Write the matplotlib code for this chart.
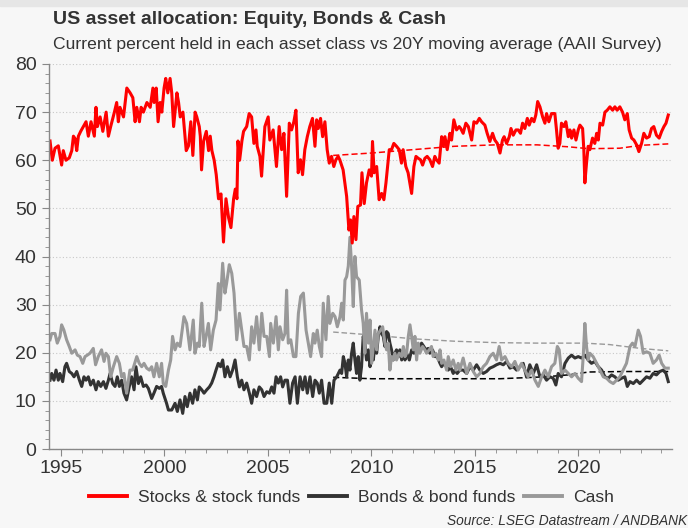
import matplotlib
matplotlib.use("Agg")
import matplotlib.pyplot as plt
from matplotlib.ticker import MultipleLocator
from matplotlib.lines import Line2D

# --- data (year, % held) ---
stocks_x = [1994.47, 1994.58, 1994.71, 1994.87, 1995.03, 1995.11, 1995.24, 1995.40, 1995.52, 1995.60,
            1995.68, 1995.76, 1995.84, 1995.95, 1996.08, 1996.21, 1996.32, 1996.45, 1996.61, 1996.69,
            1996.76, 1996.89, 1997.02, 1997.18, 1997.29, 1997.40, 1997.58, 1997.69, 1997.77, 1997.85,
            1998.02, 1998.18, 1998.34, 1998.47, 1998.58, 1998.66, 1998.79, 1998.87, 1998.98, 1999.15,
            1999.31, 1999.44, 1999.50, 1999.60, 1999.69, 1999.79, 1999.87, 1999.98, 2000.06, 2000.16,
            2000.27, 2000.35, 2000.44, 2000.60, 2000.68, 2000.76, 2000.89, 2001.05, 2001.16, 2001.27,
            2001.37, 2001.48, 2001.56, 2001.68, 2001.73, 2001.79, 2001.89, 2002.02, 2002.13, 2002.21,
            2002.29, 2002.40, 2002.50, 2002.61, 2002.73, 2002.85, 2002.97, 2003.10, 2003.21, 2003.34,
            2003.42, 2003.50, 2003.55, 2003.63, 2003.74, 2003.82, 2003.97, 2004.09, 2004.21, 2004.32,
            2004.42, 2004.48, 2004.61, 2004.69, 2004.85, 2005.01, 2005.09, 2005.25, 2005.41, 2005.54,
            2005.66, 2005.77, 2005.90, 2006.03, 2006.14, 2006.25, 2006.35, 2006.46, 2006.57, 2006.67,
            2006.78, 2006.90, 2007.02, 2007.15, 2007.27, 2007.35, 2007.43, 2007.54, 2007.64, 2007.75,
            2007.86, 2007.96, 2008.07, 2008.18, 2008.28, 2008.39, 2008.47, 2008.63, 2008.80, 2008.91,
            2008.99, 2009.07, 2009.15, 2009.25, 2009.34, 2009.47, 2009.54, 2009.65, 2009.76, 2009.89,
            2010.00, 2010.05, 2010.13, 2010.25, 2010.37, 2010.49, 2010.60, 2010.70, 2010.86, 2010.97,
            2011.08, 2011.21, 2011.34, 2011.45, 2011.53, 2011.66, 2011.77, 2011.94, 2012.05, 2012.15,
            2012.26, 2012.37, 2012.47, 2012.58, 2012.69, 2012.82, 2012.95, 2013.06, 2013.14, 2013.27,
            2013.39, 2013.47, 2013.55, 2013.66, 2013.79, 2013.87, 2013.98, 2014.11, 2014.24, 2014.31,
            2014.43, 2014.56, 2014.68, 2014.84, 2014.95, 2015.08, 2015.21, 2015.32, 2015.48, 2015.59,
            2015.72, 2015.85, 2015.96, 2016.08, 2016.21, 2016.33, 2016.41, 2016.53, 2016.66, 2016.74,
            2016.85, 2016.98, 2017.09, 2017.20, 2017.30, 2017.41, 2017.53, 2017.62, 2017.74, 2017.85,
            2017.94, 2018.03, 2018.14, 2018.27, 2018.38, 2018.46, 2018.57, 2018.70, 2018.86, 2018.94,
            2019.02, 2019.10, 2019.18, 2019.30, 2019.39, 2019.51, 2019.59, 2019.67, 2019.78, 2019.88,
            2019.99, 2020.07, 2020.20, 2020.26, 2020.31, 2020.39, 2020.47, 2020.55, 2020.68, 2020.79,
            2020.88, 2020.96, 2021.04, 2021.17, 2021.28, 2021.39, 2021.52, 2021.65, 2021.76, 2021.87,
            2022.00, 2022.13, 2022.24, 2022.36, 2022.45, 2022.57, 2022.68, 2022.81, 2022.92, 2023.05,
            2023.16, 2023.29, 2023.42, 2023.53, 2023.64, 2023.77, 2023.90, 2024.02, 2024.13, 2024.23,
            2024.34]
stocks_y = [64, 60, 62.5, 63, 59, 62, 60, 60.5, 62, 65,
            64.5, 62, 65, 66, 67, 68, 65, 68, 65, 71,
            67, 69, 66, 70, 65, 67, 70, 72, 68, 71,
            69, 75, 74, 73, 68, 71, 68, 71, 70, 72,
            71, 75, 72, 75, 68, 72, 70, 75, 77, 74,
            77, 74, 67, 74, 72, 69, 70, 62, 63, 68,
            61, 70, 69, 67, 65, 58, 64, 66, 62, 65,
            62, 60, 57, 52, 53, 43, 52, 48, 46, 52,
            54, 52, 64, 60, 64, 66, 67, 69.7, 69, 63.5,
            66.3, 62.9, 60.8, 56.7, 67, 69, 64.2, 66.3, 58.7, 67,
            62.2, 65.6, 52.5, 67.7, 66.3, 68, 70.4, 57.4, 60.1, 57,
            62.2, 64.9, 67, 68.7, 62.9, 68.4, 66.6, 68.7, 64.9, 68,
            62.2, 59.4, 60.8, 58.7, 60.1, 60.8, 60.1, 58, 52.5, 45.5,
            47.6, 42.8, 48.3, 43.5, 50.4, 50.7, 57.4, 51, 55.3, 58,
            56.7, 63.9, 57.4, 58.7, 51.8, 53.1, 51.8, 55.3, 62.2, 62.2,
            63.5, 62.9, 62.2, 59.4, 62.2, 58.7, 57.4, 53.1, 58.7, 60.8,
            60.4, 60.1, 59, 60.4, 60.8, 60.1, 58.7, 60.8, 60.1, 59.4,
            64.9, 62.9, 64.9, 62.2, 65.6, 64.2, 68.4, 66.3, 67, 66.6,
            65.6, 67.7, 67, 64.2, 68, 67.7, 68.7, 68, 67.3, 65.6,
            63.9, 65.6, 64.2, 63.5, 61.5, 64.2, 64.9, 63.5, 64.9, 66.6,
            65.2, 66.3, 66.3, 65.6, 67.7, 66.6, 68.7, 67.3, 68.7, 68,
            69.4, 72.2, 71.1, 69, 67.7, 69.7, 68, 69.7, 69.7, 66.3,
            62.5, 63.5, 67.7, 67, 68, 64.9, 66.3, 64.6, 66.3, 64.2,
            66.3, 67.3, 66.6, 62.2, 55.3, 59.4, 62.9, 62.2, 64.6, 63.5,
            65.6, 64.2, 67.7, 67.3, 70, 70.4, 71.1, 70.4, 71.1, 70.4,
            71.1, 70, 68.4, 69.7, 66.3, 64.6, 64.2, 63.2, 61.8, 63.5,
            65.6, 64.6, 64.9, 66.6, 67, 65.2, 64.6, 66, 67, 67.7,
            69.4]

bonds_x = [1994.47, 1994.55, 1994.66, 1994.76, 1994.87, 1994.95, 1995.08, 1995.19, 1995.27, 1995.40,
           1995.52, 1995.63, 1995.76, 1995.89, 1996.00, 1996.11, 1996.21, 1996.32, 1996.43, 1996.56,
           1996.69, 1996.80, 1996.92, 1997.05, 1997.17, 1997.29, 1997.37, 1997.50, 1997.61, 1997.72,
           1997.82, 1997.93, 1998.04, 1998.17, 1998.30, 1998.41, 1998.53, 1998.62, 1998.74, 1998.85,
           1998.98, 1999.11, 1999.22, 1999.38, 1999.49, 1999.62, 1999.75, 1999.86, 1999.94, 2000.10,
           2000.19, 2000.35, 2000.51, 2000.62, 2000.75, 2000.88, 2000.99, 2001.10, 2001.23, 2001.36,
           2001.47, 2001.59, 2001.68, 2001.80, 2001.91, 2002.04, 2002.17, 2002.28, 2002.39, 2002.49,
           2002.60, 2002.71, 2002.81, 2002.92, 2003.04, 2003.17, 2003.29, 2003.41, 2003.52, 2003.62,
           2003.73, 2003.84, 2003.97, 2004.10, 2004.21, 2004.32, 2004.45, 2004.58, 2004.70, 2004.81,
           2004.94, 2005.07, 2005.18, 2005.29, 2005.39, 2005.50, 2005.61, 2005.71, 2005.82, 2005.94,
           2006.06, 2006.19, 2006.31, 2006.42, 2006.55, 2006.68, 2006.79, 2006.90, 2007.03, 2007.16,
           2007.27, 2007.38, 2007.48, 2007.59, 2007.71, 2007.84, 2007.96, 2008.08, 2008.19, 2008.32,
           2008.48, 2008.56, 2008.64, 2008.72, 2008.80, 2008.88, 2008.96, 2009.04, 2009.12, 2009.20,
           2009.28, 2009.36, 2009.44, 2009.52, 2009.60, 2009.68, 2009.76, 2009.85, 2009.93, 2010.01,
           2010.09, 2010.17, 2010.25, 2010.33, 2010.41, 2010.49, 2010.57, 2010.65, 2010.73, 2010.81,
           2010.89, 2010.97, 2011.05, 2011.13, 2011.21, 2011.29, 2011.37, 2011.46, 2011.54, 2011.62,
           2011.70, 2011.83, 2011.94, 2012.05, 2012.18, 2012.31, 2012.42, 2012.53, 2012.63, 2012.74,
           2012.82, 2012.95, 2013.07, 2013.18, 2013.31, 2013.39, 2013.50, 2013.63, 2013.71, 2013.82,
           2013.95, 2014.03, 2014.14, 2014.27, 2014.43, 2014.60, 2014.76, 2014.92, 2015.08, 2015.24,
           2015.40, 2015.56, 2015.72, 2015.88, 2016.04, 2016.21, 2016.37, 2016.53, 2016.69, 2016.85,
           2017.01, 2017.17, 2017.33, 2017.49, 2017.65, 2017.82, 2017.98, 2018.14, 2018.30, 2018.46,
           2018.62, 2018.78, 2018.91, 2019.02, 2019.18, 2019.35, 2019.51, 2019.67, 2019.83, 2019.99,
           2020.15, 2020.31, 2020.47, 2020.63, 2020.79, 2020.96, 2021.12, 2021.28, 2021.44, 2021.60,
           2021.76, 2021.92, 2022.08, 2022.24, 2022.36, 2022.49, 2022.65, 2022.81, 2022.97, 2023.13,
           2023.29, 2023.45, 2023.61, 2023.77, 2023.93, 2024.10, 2024.23, 2024.34]
bonds_y = [14.3, 15.7, 14.3, 16.4, 14.3, 15.7, 14, 17.1, 17.8, 16.1,
           15.7, 15, 16.1, 14.3, 13, 15, 14.3, 15, 13.3, 14.3,
           12.3, 14, 13, 14, 12.6, 14.3, 15.7, 13.6, 13, 15,
           13, 14.3, 11.6, 10.2, 13, 15, 12.3, 17.1, 13.6, 15,
           13, 13.3, 12.6, 10.5, 11.6, 13, 12.6, 13, 11.6, 9.5,
           8.1, 8.1, 9.5, 7.8, 10.2, 7.4, 10.9, 8.8, 11.6, 9.5,
           12.3, 10.2, 12.9, 12.3, 11.6, 12.3, 12.9, 13.7, 15, 16.4,
           17.8, 17.1, 18.5, 15, 17.1, 15, 16.4, 18.5, 15, 12.9,
           14.3, 12.3, 13.7, 11.6, 9.5, 12.3, 10.9, 12.9, 12.3, 10.9,
           11.9, 11.6, 12.9, 11.6, 15, 13.7, 15, 12.9, 14.3, 14.3,
           9.5, 13.7, 15, 9.5, 15, 12.3, 15, 11.6, 15, 10.9,
           14.3, 13.7, 11.6, 14.3, 9.5, 9.5, 13.7, 9.5, 14.3, 15,
           16.4, 15.7, 19.2, 17.8, 15, 18.5, 16.4, 19.9, 22, 18.5,
           15.7, 19.2, 14.3, 17.1, 23.4, 22, 18.5, 20.6, 17.1, 19.9,
           18.5, 22, 19.9, 23.4, 25.4, 24, 23.4, 21.3, 24.4, 24,
           22, 20.6, 18.5, 19.9, 20.6, 19.2, 20.6, 18.5, 20.6, 18.5,
           19.9, 18.5, 20.6, 19.9, 21.3, 20.6, 22, 21.3, 20.6, 20.9,
           19.9, 20.6, 19.2, 19.2, 17.8, 17.1, 17.8, 17.1, 16.4, 17.1,
           15.7, 16.4, 15.7, 16.4, 16.4, 15.7, 17.1, 16.4, 17.5, 16.4,
           15.7, 16.1, 16.8, 17.1, 17.5, 17.8, 17.5, 18.2, 16.8, 17.1,
           16.4, 17.1, 17.8, 15, 17.5, 15.7, 17.5, 15, 15.4, 14.3,
           15, 14.7, 13.3, 15.7, 15, 17.8, 18.9, 19.5, 18.9, 19.2,
           18.9, 19.5, 18.5, 17.8, 18.2, 17.1, 16.4, 15, 14.7, 15.4,
           15, 14.3, 14.7, 15, 13, 14, 13.6, 14.3, 13.6, 14.3,
           15, 14.7, 15.7, 15.4, 16.1, 16.4, 15.7, 14]

cash_x = [1994.47, 1994.55, 1994.71, 1994.82, 1994.95, 1995.03, 1995.14, 1995.27, 1995.40, 1995.52,
          1995.68, 1995.79, 1995.92, 1996.05, 1996.16, 1996.27, 1996.40, 1996.56, 1996.67, 1996.80,
          1996.96, 1997.08, 1997.17, 1997.29, 1997.40, 1997.53, 1997.69, 1997.82, 1997.93, 1998.04,
          1998.17, 1998.33, 1998.46, 1998.66, 1998.78, 1998.90, 1999.01, 1999.14, 1999.27, 1999.38,
          1999.49, 1999.62, 1999.75, 1999.86, 1999.94, 2000.06, 2000.19, 2000.30, 2000.39, 2000.51,
          2000.62, 2000.75, 2000.94, 2001.07, 2001.23, 2001.39, 2001.47, 2001.59, 2001.68, 2001.80,
          2001.91, 2002.01, 2002.12, 2002.23, 2002.36, 2002.49, 2002.60, 2002.68, 2002.81, 2002.92,
          2003.00, 2003.13, 2003.25, 2003.36, 2003.49, 2003.62, 2003.73, 2003.84, 2003.97, 2004.10,
          2004.21, 2004.32, 2004.45, 2004.58, 2004.70, 2004.81, 2004.94, 2005.07, 2005.13, 2005.26,
          2005.39, 2005.50, 2005.58, 2005.71, 2005.82, 2005.90, 2005.98, 2006.10, 2006.23, 2006.35,
          2006.47, 2006.58, 2006.71, 2006.84, 2006.95, 2007.06, 2007.19, 2007.27, 2007.38, 2007.48,
          2007.59, 2007.67, 2007.80, 2007.91, 2007.99, 2008.13, 2008.24, 2008.35, 2008.48, 2008.56,
          2008.64, 2008.72, 2008.80, 2008.88, 2008.96, 2009.04, 2009.12, 2009.20, 2009.28, 2009.41,
          2009.52, 2009.60, 2009.68, 2009.76, 2009.85, 2009.93, 2010.01, 2010.09, 2010.17, 2010.25,
          2010.33, 2010.44, 2010.54, 2010.65, 2010.73, 2010.81, 2010.89, 2010.97, 2011.05, 2011.13,
          2011.21, 2011.34, 2011.46, 2011.54, 2011.62, 2011.70, 2011.78, 2011.86, 2011.94, 2012.02,
          2012.10, 2012.18, 2012.26, 2012.34, 2012.47, 2012.58, 2012.66, 2012.79, 2012.90, 2012.98,
          2013.11, 2013.23, 2013.31, 2013.39, 2013.50, 2013.63, 2013.71, 2013.82, 2013.95, 2014.08,
          2014.19, 2014.27, 2014.43, 2014.60, 2014.76, 2014.92, 2015.08, 2015.24, 2015.40, 2015.56,
          2015.72, 2015.88, 2016.04, 2016.17, 2016.29, 2016.45, 2016.61, 2016.77, 2016.93, 2017.09,
          2017.25, 2017.41, 2017.57, 2017.74, 2017.90, 2018.06, 2018.22, 2018.38, 2018.54, 2018.70,
          2018.86, 2018.98, 2019.07, 2019.18, 2019.35, 2019.51, 2019.67, 2019.83, 2019.99, 2020.15,
          2020.23, 2020.31, 2020.39, 2020.47, 2020.55, 2020.71, 2020.88, 2021.04, 2021.20, 2021.36,
          2021.52, 2021.68, 2021.84, 2022.00, 2022.16, 2022.32, 2022.49, 2022.61, 2022.73, 2022.89,
          2023.00, 2023.13, 2023.29, 2023.45, 2023.61, 2023.77, 2023.90, 2024.02, 2024.18, 2024.34]
cash_y = [22.7, 24, 24, 22, 23.4, 25.8, 24.7, 22.7, 21.3, 19.9,
          20.6, 19.5, 19.2, 17.8, 19.2, 19.5, 19.9, 20.9, 17.5, 19.2,
          20.6, 18.2, 19.9, 19.2, 15, 17.1, 19.2, 17.8, 15, 15.7,
          11.6, 16.4, 16.4, 19.2, 17.8, 17.1, 17.8, 16.8, 16.4, 17.1,
          15, 17.8, 15, 17.8, 13.6, 13, 16.4, 18.5, 23.4, 20.6,
          22, 21.3, 27.5, 26.1, 20.6, 26.8, 19.9, 22, 21.3, 30.3,
          21.3, 23.4, 26.1, 20.6, 24.7, 26.8, 34.4, 28.9, 38.6, 32.4,
          34.4, 38.3, 36.5, 32.4, 22.7, 28.2, 24.7, 21.3, 21.3, 18.5,
          25.4, 22, 27.5, 20.6, 28.2, 23.4, 23.4, 19.2, 26.1, 22,
          27.5, 20.6, 25.4, 22.7, 24, 33, 22, 22.7, 19.2, 19.2,
          28.2, 31.7, 32.4, 24.7, 22, 19.2, 24, 22, 24.7, 21.3,
          19.2, 30.3, 22.7, 31.7, 26.1, 28.2, 27.5, 25.4, 27.5, 30.3,
          26.8, 35.1, 35.8, 38, 44, 38, 29.6, 40, 35.8, 35.1,
          28.9, 26.1, 19.9, 28.2, 22, 26.8, 17.8, 21.3, 24.7, 20.6,
          24, 24.7, 25.4, 22, 20.6, 22, 16.4, 19.2, 18.5, 19.9,
          18.5, 19.9, 19.2, 21.3, 19.2, 19.9, 23.4, 25.8, 23.4, 20.6,
          23.4, 18.5, 22, 19.9, 21.3, 20.6, 19.9, 20.6, 21.3, 19.2,
          19.9, 18.5, 20.6, 17.8, 18.5, 16.4, 19.2, 17.1, 18.5, 16.4,
          17.8, 16.4, 18.9, 15.7, 17.8, 16.1, 15, 15.7, 17.1, 17.8,
          19.2, 19.9, 18.5, 21.3, 18.5, 19.2, 17.8, 17.1, 18.2, 16.4,
          17.8, 16.4, 15, 16.4, 14.3, 13, 15, 16.4, 15, 17.1,
          17.8, 21.3, 20.6, 15.7, 16.4, 15.7, 15, 15.7, 14.7, 14,
          19.2, 26.1, 21.3, 18.5, 19.9, 19.2, 17.8, 16.4, 15, 14.7,
          14, 13.6, 14.3, 15, 16.4, 17.8, 21.3, 22, 21.3, 24.7,
          23.4, 19.9, 20.2, 19.9, 17.8, 18.5, 19.5, 17.8, 16.8, 16.8]

# 20Y moving averages (dashed)
stocks_ma_x = [2008.15, 2010.0, 2012.0, 2014.0, 2016.0, 2018.0, 2019.5, 2020.5, 2022.0, 2023.0, 2024.34]
stocks_ma_y = [61.0, 61.5, 62.2, 62.9, 63.2, 63.2, 62.8, 62.4, 62.5, 63.1, 63.4]
bonds_ma_x = [2008.15, 2010.0, 2014.0, 2016.2, 2018.4, 2019.5, 2020.5, 2022.2, 2024.34]
bonds_ma_y = [14.9, 14.6, 14.6, 14.6, 15.0, 15.4, 16.0, 16.1, 16.1]
cash_ma_x = [2008.15, 2010.0, 2012.0, 2014.0, 2016.0, 2018.0, 2020.3, 2021.5, 2023.0, 2024.34]
cash_ma_y = [24.3, 23.7, 22.9, 22.4, 22.1, 22.0, 22.0, 21.7, 20.9, 20.4]

RED = "#ff0000"
DARK = "#333333"
GREY = "#999999"
BG = "#f7f7f7"
FONT = "Liberation Sans"

fig = plt.figure(figsize=(6.88, 5.28), dpi=100, facecolor=BG)
ax = fig.add_axes([49 / 688, 1 - 449 / 528, 623 / 688, 385 / 528])
ax.set_facecolor(BG)

ax.plot(cash_ma_x, cash_ma_y, color=GREY, lw=1.0, ls=(0, (4, 2)))
ax.plot(bonds_ma_x, bonds_ma_y, color="black", lw=1.1, ls=(0, (4, 2)))
ax.plot(stocks_ma_x, stocks_ma_y, color=RED, lw=1.1, ls=(0, (4, 2)))
ax.plot(bonds_x, bonds_y, color=DARK, lw=2.2, solid_joinstyle="round")
ax.plot(cash_x, cash_y, color=GREY, lw=2.2, solid_joinstyle="round")
ax.plot(stocks_x, stocks_y, color=RED, lw=2.2, solid_joinstyle="round")

ax.set_xlim(1994.42, 2024.52)
ax.set_ylim(0, 80)
ax.xaxis.set_major_locator(MultipleLocator(5))
ax.xaxis.set_minor_locator(MultipleLocator(1))
ax.yaxis.set_major_locator(MultipleLocator(10))
ax.yaxis.set_minor_locator(MultipleLocator(2))
ax.grid(axis="y", which="major", color="#c8c8c8", ls=(0, (1, 2)), lw=0.8)
ax.set_axisbelow(True)

for s in ["top", "right"]:
    ax.spines[s].set_visible(False)
for s in ["left", "bottom"]:
    ax.spines[s].set_color("#888888")
    ax.spines[s].set_linewidth(1.0)
ax.tick_params(which="both", color="#888888", direction="out")
ax.tick_params(which="major", length=5, labelsize=14, labelcolor="#333333")
ax.tick_params(which="minor", length=3)
ax.tick_params(axis="x", pad=3)
ax.tick_params(axis="y", pad=4)

fig.text(53 / 688, 1 - 20 / 528, "US asset allocation: Equity, Bonds & Cash", fontsize=14,
         fontweight="bold", color="#333333", va="center", family=FONT)
fig.text(53 / 688, 1 - 45 / 528,
         "Current percent held in each asset class vs 20Y moving average (AAII Survey)",
         fontsize=12.6, color="#333333", va="center", family=FONT)
fig.text(687 / 688, 1 - 521 / 528, "Source: LSEG Datastream / ANDBANK", fontsize=9.9,
         style="italic", color="#333333", ha="right", va="center", family=FONT)

handles = [Line2D([], [], color=RED, lw=2.8),
           Line2D([], [], color=DARK, lw=2.8),
           Line2D([], [], color=GREY, lw=2.8)]
fig.legend(handles, ["Stocks & stock funds", "Bonds & bond funds", "Cash"],
           loc="center", bbox_to_anchor=(351 / 688, 1 - 497 / 528), ncol=3, frameon=False,
           handlelength=2.2, columnspacing=0.5, handletextpad=0.6,
           prop={"family": FONT, "size": 12.6}, labelcolor="#333333")

# top band of the frame
fig.patches.append(plt.Rectangle((0, 1 - 6 / 528), 1, 6 / 528, transform=fig.transFigure,
                                 color="#e6e6e6", zorder=0))

for lab in ax.get_xticklabels() + ax.get_yticklabels():
    lab.set_family(FONT)

fig.savefig("out.png", dpi=100, facecolor=BG)
